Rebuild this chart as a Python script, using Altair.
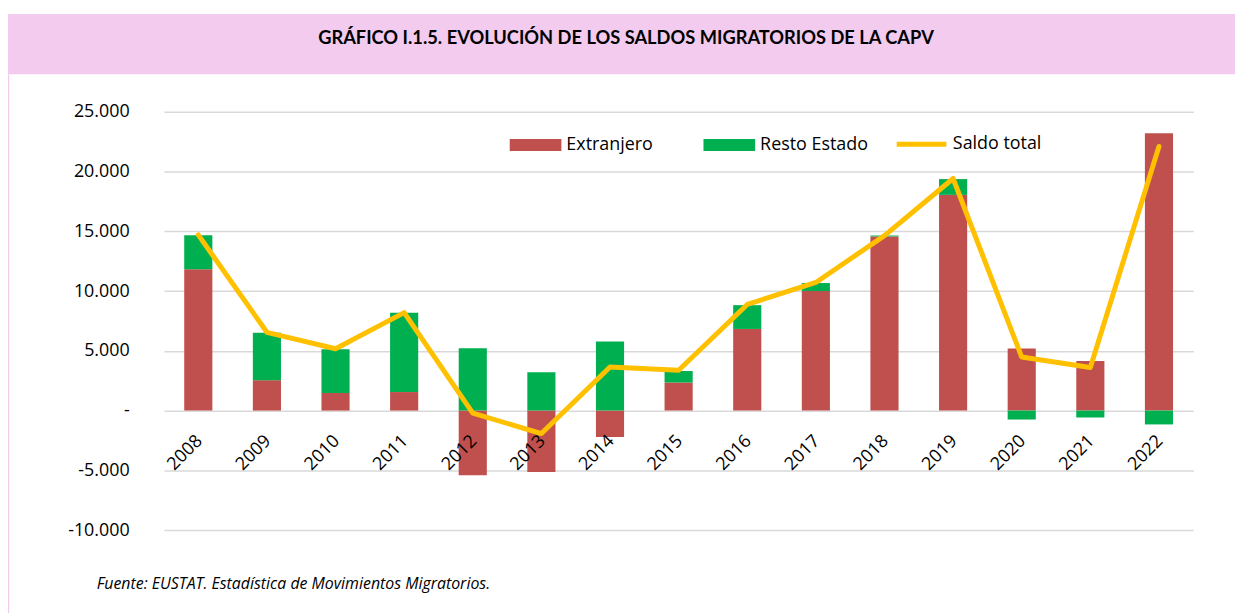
import altair as alt
import pandas as pd

# ---------------- data ----------------
anios = ["2008", "2009", "2010", "2011", "2012", "2013", "2014", "2015",
         "2016", "2017", "2018", "2019", "2020", "2021", "2022"]
extranjero = [11830, 2540, 1470, 1550, -5410, -5140, -2210, 2350,
              6830, 10000, 14570, 18050, 5200, 4150, 23210]
resto_estado = [2840, 3980, 3670, 6630, 5220, 3210, 5780, 970,
                1990, 670, 80, 1320, -750, -580, -1160]
saldo_total = [14700, 6550, 5170, 8200, -220, -1920, 3650, 3380,
               8880, 10720, 14640, 19420, 4480, 3600, 22100]
series_barras = ["Extranjero", "Resto Estado"]
serie_linea = "Saldo total"
y_ticks = [-10000, -5000, 0, 5000, 10000, 15000, 20000, 25000]
titulo = "GRÁFICO I.1.5. EVOLUCIÓN DE LOS SALDOS MIGRATORIOS DE LA CAPV"
fuente = "Fuente: EUSTAT. Estadística de Movimientos Migratorios."

# ---------------- style ----------------
FONT = "Open Sans"
TITLE_FONT = "Lato"
C_EXT = "#C0504D"
C_RESTO = "#00B050"
C_LINE = "#FFC000"
PINK = "#F2CBEF"
GRID = "#D9D9D9"

W, H = 1036, 421
PAD_L, PAD_T = 157, 102.5
TOTAL_W, TOTAL_H = 1235, 607

bars_df = pd.DataFrame({
    "anio": anios * 2,
    "serie": [series_barras[0]] * len(anios) + [series_barras[1]] * len(anios),
    "valor": extranjero + resto_estado,
    "orden": [0] * len(anios) + [1] * len(anios),
})
line_df = pd.DataFrame({"anio": anios, "valor": saldo_total, "serie": [serie_linea] * len(anios)})
one_df = pd.DataFrame({"titulo": [titulo], "fuente": [fuente]})

x_enc = alt.X(
    "anio:N", sort=anios,
    scale=alt.Scale(paddingInner=0.59, paddingOuter=0.295),
    axis=alt.Axis(title=None, labelAngle=-45, labelAlign="right", labelBaseline="top",
                  labelPadding=21, labelOffset=-5, ticks=False, domain=False, grid=False,
                  offset=-120, zindex=1, labelFont=FONT, labelFontSize=18, labelColor="#000000"),
)
label_expr = ("datum.value == 0 ? '-\u00a0\u00a0' : (datum.value < 0 ? '-' : '') + "
              "replace(format(abs(datum.value), ','), ',', '.')")
y_enc = alt.Y(
    "valor:Q", stack="zero",
    scale=alt.Scale(domain=[-10000, 25000], nice=False, zero=False),
    axis=alt.Axis(title=None, values=y_ticks, labelExpr=label_expr, ticks=False, domain=False,
                  grid=True, gridColor=GRID, gridWidth=1.5, labelPadding=35,
                  labelFont=FONT, labelFontSize=18, labelColor="#000000"),
)

band = alt.Chart(one_df).mark_rect(color=PINK).encode(
    x=alt.value(-PAD_L), x2=alt.value(TOTAL_W - PAD_L),
    y=alt.value(12 - 8 - PAD_T), y2=alt.value(72.7 - 8 - PAD_T),
)
border = alt.Chart(one_df).mark_rule(color=PINK, strokeWidth=1.5).encode(
    x=alt.value(-PAD_L + 0.5), y=alt.value(72.7 - 8 - PAD_T), y2=alt.value(TOTAL_H - PAD_T),
)
title_txt = alt.Chart(one_df).mark_text(
    font=TITLE_FONT, fontSize=18.4, fontWeight="bold", color="#000000",
    align="center", baseline="alphabetic",
).encode(x=alt.value(630 - 8 - PAD_L), y=alt.value(42.7 - 8 - PAD_T), text="titulo:N")
source_txt = alt.Chart(one_df).mark_text(
    font=FONT, fontSize=16, fontStyle="italic", color="#000000",
    align="left", baseline="alphabetic",
).encode(x=alt.value(97.3 - 8 - PAD_L), y=alt.value(590.7 - 8 - PAD_T), text="fuente:N")

bars = alt.Chart(bars_df).mark_bar().encode(
    x=x_enc, y=y_enc,
    fill=alt.Fill("serie:N", scale=alt.Scale(domain=series_barras, range=[C_EXT, C_RESTO]),
                  legend=alt.Legend(title=None, orient="none", legendX=348, legendY=7.5,
                                    direction="horizontal", symbolType="M-1,-0.2308H1V0.2308H-1Z",
                                    symbolSize=2704, symbolStrokeWidth=0, symbolOpacity=1,
                                    labelFont=FONT, labelFontSize=18, labelColor="#000000",
                                    labelOffset=5, columnPadding=50, padding=0)),
    order=alt.Order("orden:Q"),
)
line = alt.Chart(line_df).mark_line(strokeWidth=5, strokeCap="round", strokeJoin="round").encode(
    x=x_enc, y=y_enc,
    stroke=alt.Stroke("serie:N", scale=alt.Scale(domain=[serie_linea], range=[C_LINE]),
                      legend=alt.Legend(title=None, orient="none", legendX=735, legendY=5.1,
                                        symbolType="stroke", symbolSize=2500, symbolStrokeWidth=5,
                                        labelFont=FONT, labelFontSize=18, labelColor="#000000",
                                        labelOffset=4, padding=0)),
)

chart = alt.layer(band, border, title_txt, source_txt, bars, line).resolve_scale(
    fill="independent", stroke="independent"
).properties(
    width=W, height=H,
    padding={"left": PAD_L, "top": PAD_T, "right": TOTAL_W - PAD_L - W, "bottom": TOTAL_H - PAD_T - H},
    autosize=alt.AutoSizeParams(type="none"),
    background="white",
).configure_view(stroke=None)

chart.save("out.html", embed_options={"renderer": "svg", "actions": False})
